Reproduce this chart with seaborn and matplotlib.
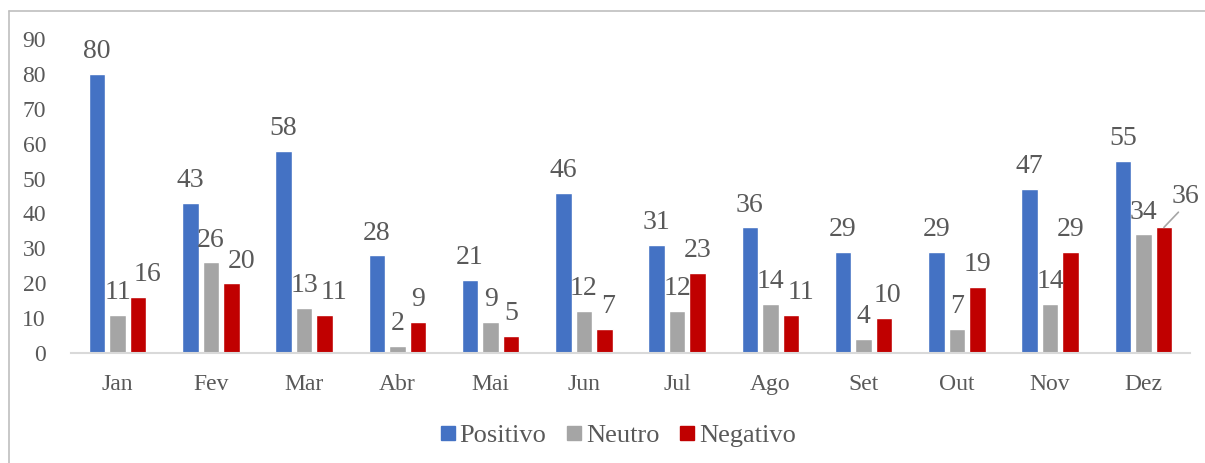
import pandas as pd
import matplotlib.pyplot as plt
import seaborn as sns
from matplotlib.lines import Line2D

months = ["Jan", "Fev", "Mar", "Abr", "Mai", "Jun", "Jul", "Ago", "Set", "Out", "Nov", "Dez"]
positivo = [80, 43, 58, 28, 21, 46, 31, 36, 29, 29, 47, 55]
neutro = [11, 26, 13, 2, 9, 12, 12, 14, 4, 7, 14, 34]
negativo = [16, 20, 11, 9, 5, 7, 23, 11, 10, 19, 29, 36]
series = ["Positivo", "Neutro", "Negativo"]
colors = ["#4472C4", "#A5A5A5", "#C00000"]

df = pd.DataFrame({"mes": months * 3,
                   "valor": positivo + neutro + negativo,
                   "serie": [s for s in series for _ in months]})

sns.set_style("white")
plt.rcParams["font.family"] = ["Liberation Serif", "DejaVu Serif"]
text_col = "#595959"

fig = plt.figure(figsize=(12.05, 4.63), dpi=100)
ax = fig.add_axes([71 / 1205, 1 - 353 / 463, (1190 - 71) / 1205, (353 - 39) / 463])

sns.barplot(data=df, x="mes", y="valor", hue="serie", order=months, hue_order=series,
            palette=colors, width=0.66, gap=0.2, saturation=1, legend=False, ax=ax)

ax.set_ylim(0, 90)
ax.set_xlim(-0.5, 11.5)
ax.set_yticks(range(0, 91, 10))
ax.set_xlabel("")
ax.set_ylabel("")
for s in ["top", "right", "left"]:
    ax.spines[s].set_visible(False)
ax.spines["bottom"].set_color("#D9D9D9")
ax.spines["bottom"].set_linewidth(1.5)
ax.tick_params(axis="both", length=0, labelsize=17, labelcolor=text_col)
ax.tick_params(axis="y", pad=18)
ax.tick_params(axis="x", pad=15)

#data labels
all_labels = []
for i, cont in enumerate(ax.containers):
    vals = [positivo, neutro, negativo][i]
    labels = [str(v) for v in vals]
    if i == 2:
        labels[-1] = ""
    all_labels.append(ax.bar_label(cont, labels=labels, padding=7, fontsize=20, color=text_col))

#nudge neighbouring labels that collide (like excel does)
fig.canvas.draw()
r = fig.canvas.get_renderer()
for m in range(len(months)):
    for i in range(1, 3):
        left, right = all_labels[i - 1][m], all_labels[i][m]
        if right.get_text() == "" or left.get_text() == "":
            continue
        b1 = left.get_window_extent(r)
        b2 = right.get_window_extent(r)
        if b1.overlaps(b2):
            dx = (b1.x1 - b2.x0 + 3) * 72 / fig.dpi
            ox, oy = right.xyann
            right.xyann = (ox + dx, oy)
            fig.canvas.draw()

#Dez negativo label with leader line
bar = ax.containers[2][-1]
bx = bar.get_x() + bar.get_width() / 2
ax.annotate(str(negativo[-1]), xy=(bx, negativo[-1]), xytext=(bx + 0.23, negativo[-1] + 5.3),
            fontsize=20, color=text_col, ha="center", va="bottom",
            arrowprops=dict(arrowstyle="-", color="#A6A6A6", lw=1.2, shrinkA=0, shrinkB=0,
                            relpos=(0.45, 0.1)), annotation_clip=False)

#legend
handles = [Line2D([0], [0], marker="s", color="none", markerfacecolor=c, markeredgecolor=c,
                  markersize=10) for c in colors]
fig.legend(handles, series, loc="center", bbox_to_anchor=(618 / 1205, 1 - 435 / 463), ncol=3,
           frameon=False, fontsize=19, handlelength=0.6, handletextpad=0.15, columnspacing=0.75,
           labelcolor=text_col)

#outer border (right and bottom cropped)
fig.add_artist(Line2D([9 / 1205, 9 / 1205], [0, 1 - 11 / 463], transform=fig.transFigure,
                      color="#BFBFBF", lw=1.2))
fig.add_artist(Line2D([9 / 1205, 1], [1 - 11 / 463, 1 - 11 / 463], transform=fig.transFigure,
                      color="#BFBFBF", lw=1.2))

fig.savefig("out.png", dpi=100)
